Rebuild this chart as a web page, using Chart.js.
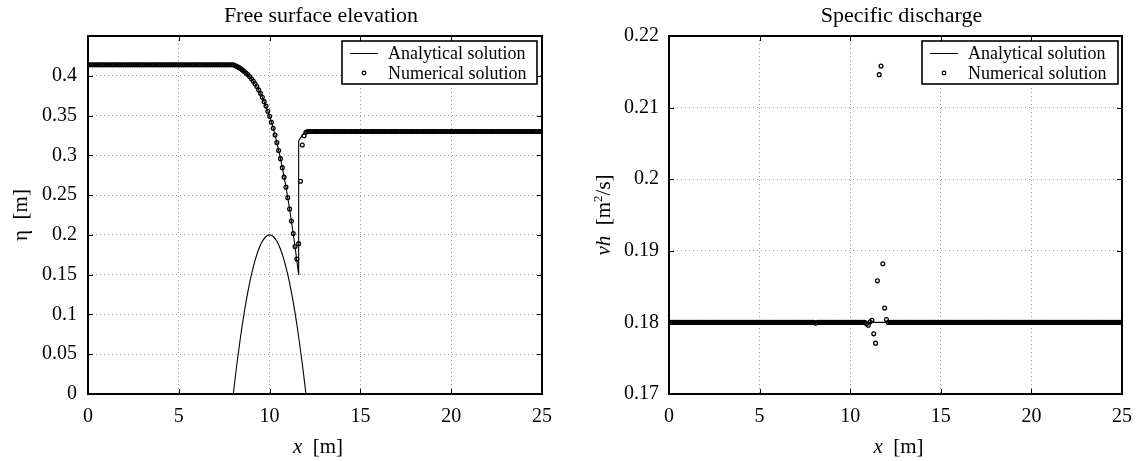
<!DOCTYPE html>
<html>
<head>
<meta charset="utf-8">
<script src="https://cdn.jsdelivr.net/npm/chart.js@4/dist/chart.umd.min.js"></script>
<style>
  html, body { margin: 0; padding: 0; background: #fff; }
  #wrap { position: relative; width: 1143px; height: 461px; overflow: hidden; }
  #wrap canvas { position: absolute; top: 0; }
  #left { left: 0; }
  #right { left: 580px; }
</style>
</head>
<body>
<div id="wrap">
  <canvas id="left" width="580" height="461"></canvas>
  <canvas id="right" width="563" height="461"></canvas>
</div>
<script>
// mesh nodes of the numerical solution [m]
const xNodes = [
  0, 0.1, 0.2, 0.3, 0.4, 0.5, 0.6, 0.7, 0.8, 0.9,
  1, 1.1, 1.2, 1.3, 1.4, 1.5, 1.6, 1.7, 1.8, 1.9,
  2, 2.1, 2.2, 2.3, 2.4, 2.5, 2.6, 2.7, 2.8, 2.9,
  3, 3.1, 3.2, 3.3, 3.4, 3.5, 3.6, 3.7, 3.8, 3.9,
  4, 4.1, 4.2, 4.3, 4.4, 4.5, 4.6, 4.7, 4.8, 4.9,
  5, 5.1, 5.2, 5.3, 5.4, 5.5, 5.6, 5.7, 5.8, 5.9,
  6, 6.1, 6.2, 6.3, 6.4, 6.5, 6.6, 6.7, 6.8, 6.9,
  7, 7.1, 7.2, 7.3, 7.4, 7.5, 7.6, 7.7, 7.8, 7.9,
  8, 8.1, 8.2, 8.3, 8.4, 8.5, 8.6, 8.7, 8.8, 8.9,
  9, 9.1, 9.2, 9.3, 9.4, 9.5, 9.6, 9.7, 9.8, 9.9,
  10, 10.1, 10.2, 10.3, 10.4, 10.5, 10.6, 10.7, 10.8, 10.9,
  11, 11.1, 11.2, 11.3, 11.4, 11.5, 11.6, 11.7, 11.8, 11.9,
  12, 12.1, 12.2, 12.3, 12.4, 12.5, 12.6, 12.7, 12.8, 12.9,
  13, 13.1, 13.2, 13.3, 13.4, 13.5, 13.6, 13.7, 13.8, 13.9,
  14, 14.1, 14.2, 14.3, 14.4, 14.5, 14.6, 14.7, 14.8, 14.9,
  15, 15.1, 15.2, 15.3, 15.4, 15.5, 15.6, 15.7, 15.8, 15.9,
  16, 16.1, 16.2, 16.3, 16.4, 16.5, 16.6, 16.7, 16.8, 16.9,
  17, 17.1, 17.2, 17.3, 17.4, 17.5, 17.6, 17.7, 17.8, 17.9,
  18, 18.1, 18.2, 18.3, 18.4, 18.5, 18.6, 18.7, 18.8, 18.9,
  19, 19.1, 19.2, 19.3, 19.4, 19.5, 19.6, 19.7, 19.8, 19.9,
  20, 20.1, 20.2, 20.3, 20.4, 20.5, 20.6, 20.7, 20.8, 20.9,
  21, 21.1, 21.2, 21.3, 21.4, 21.5, 21.6, 21.7, 21.8, 21.9,
  22, 22.1, 22.2, 22.3, 22.4, 22.5, 22.6, 22.7, 22.8, 22.9,
  23, 23.1, 23.2, 23.3, 23.4, 23.5, 23.6, 23.7, 23.8, 23.9,
  24, 24.1, 24.2, 24.3, 24.4, 24.5, 24.6, 24.7, 24.8, 24.9,
  25
];

// numerical free surface elevation at the nodes [m]
const etaNumerical = [
  0.4139, 0.4139, 0.4139, 0.4139, 0.4139, 0.4139, 0.4139, 0.4139, 0.4139, 0.4139,
  0.4139, 0.4139, 0.4139, 0.4139, 0.4139, 0.4139, 0.4139, 0.4139, 0.4139, 0.4139,
  0.4139, 0.4139, 0.4139, 0.4139, 0.4139, 0.4139, 0.4139, 0.4139, 0.4139, 0.4139,
  0.4139, 0.4139, 0.4139, 0.4139, 0.4139, 0.4139, 0.4139, 0.4139, 0.4139, 0.4139,
  0.4139, 0.4139, 0.4139, 0.4139, 0.4139, 0.4139, 0.4139, 0.4139, 0.4139, 0.4139,
  0.4139, 0.4139, 0.4139, 0.4139, 0.4139, 0.4139, 0.4139, 0.4139, 0.4139, 0.4139,
  0.4139, 0.4139, 0.4139, 0.4139, 0.4139, 0.4139, 0.4139, 0.4139, 0.4139, 0.4139,
  0.4139, 0.4139, 0.4139, 0.4139, 0.4139, 0.4139, 0.4139, 0.4139, 0.4139, 0.4139,
  0.4139, 0.4128, 0.4117, 0.4105, 0.4090, 0.4074, 0.4056, 0.4035, 0.4015, 0.3991,
  0.3962, 0.3933, 0.3900, 0.3865, 0.3820, 0.3779, 0.3730, 0.3675, 0.3620, 0.3555,
  0.3490, 0.3415, 0.3340, 0.3255, 0.3160, 0.3060, 0.2958, 0.2845, 0.2726, 0.2600,
  0.2468, 0.2325, 0.2175, 0.2018, 0.1853, 0.1696, 0.1890, 0.2675, 0.3130, 0.3246,
  0.3290, 0.33, 0.33, 0.33, 0.33, 0.33, 0.33, 0.33, 0.33, 0.33,
  0.33, 0.33, 0.33, 0.33, 0.33, 0.33, 0.33, 0.33, 0.33, 0.33,
  0.33, 0.33, 0.33, 0.33, 0.33, 0.33, 0.33, 0.33, 0.33, 0.33,
  0.33, 0.33, 0.33, 0.33, 0.33, 0.33, 0.33, 0.33, 0.33, 0.33,
  0.33, 0.33, 0.33, 0.33, 0.33, 0.33, 0.33, 0.33, 0.33, 0.33,
  0.33, 0.33, 0.33, 0.33, 0.33, 0.33, 0.33, 0.33, 0.33, 0.33,
  0.33, 0.33, 0.33, 0.33, 0.33, 0.33, 0.33, 0.33, 0.33, 0.33,
  0.33, 0.33, 0.33, 0.33, 0.33, 0.33, 0.33, 0.33, 0.33, 0.33,
  0.33, 0.33, 0.33, 0.33, 0.33, 0.33, 0.33, 0.33, 0.33, 0.33,
  0.33, 0.33, 0.33, 0.33, 0.33, 0.33, 0.33, 0.33, 0.33, 0.33,
  0.33, 0.33, 0.33, 0.33, 0.33, 0.33, 0.33, 0.33, 0.33, 0.33,
  0.33, 0.33, 0.33, 0.33, 0.33, 0.33, 0.33, 0.33, 0.33, 0.33,
  0.33, 0.33, 0.33, 0.33, 0.33, 0.33, 0.33, 0.33, 0.33, 0.33,
  0.33
];

// numerical specific discharge at the nodes [m2/s]
const qNumerical = [
  0.18, 0.18, 0.18, 0.18, 0.18, 0.18, 0.18, 0.18, 0.18, 0.18,
  0.18, 0.18, 0.18, 0.18, 0.18, 0.18, 0.18, 0.18, 0.18, 0.18,
  0.18, 0.18, 0.18, 0.18, 0.18, 0.18, 0.18, 0.18, 0.18, 0.18,
  0.18, 0.18, 0.18, 0.18, 0.18, 0.18, 0.18, 0.18, 0.18, 0.18,
  0.18, 0.18, 0.18, 0.18, 0.18, 0.18, 0.18, 0.18, 0.18, 0.18,
  0.18, 0.18, 0.18, 0.18, 0.18, 0.18, 0.18, 0.18, 0.18, 0.18,
  0.18, 0.18, 0.18, 0.18, 0.18, 0.18, 0.18, 0.18, 0.18, 0.18,
  0.18, 0.18, 0.18, 0.18, 0.18, 0.18, 0.18, 0.18, 0.18, 0.18,
  0.18, 0.1799, 0.18, 0.18, 0.18, 0.18, 0.18, 0.18, 0.18, 0.18,
  0.18, 0.18, 0.18, 0.18, 0.18, 0.18, 0.18, 0.18, 0.18, 0.18,
  0.18, 0.18, 0.18, 0.18, 0.18, 0.18, 0.18, 0.18, 0.18, 0.1798,
  0.1796, 0.1801, 0.1803, 0.1784, 0.1771, 0.1858, 0.2146, 0.2158, 0.1882, 0.1820,
  0.1804, 0.18, 0.18, 0.18, 0.18, 0.18, 0.18, 0.18, 0.18, 0.18,
  0.18, 0.18, 0.18, 0.18, 0.18, 0.18, 0.18, 0.18, 0.18, 0.18,
  0.18, 0.18, 0.18, 0.18, 0.18, 0.18, 0.18, 0.18, 0.18, 0.18,
  0.18, 0.18, 0.18, 0.18, 0.18, 0.18, 0.18, 0.18, 0.18, 0.18,
  0.18, 0.18, 0.18, 0.18, 0.18, 0.18, 0.18, 0.18, 0.18, 0.18,
  0.18, 0.18, 0.18, 0.18, 0.18, 0.18, 0.18, 0.18, 0.18, 0.18,
  0.18, 0.18, 0.18, 0.18, 0.18, 0.18, 0.18, 0.18, 0.18, 0.18,
  0.18, 0.18, 0.18, 0.18, 0.18, 0.18, 0.18, 0.18, 0.18, 0.18,
  0.18, 0.18, 0.18, 0.18, 0.18, 0.18, 0.18, 0.18, 0.18, 0.18,
  0.18, 0.18, 0.18, 0.18, 0.18, 0.18, 0.18, 0.18, 0.18, 0.18,
  0.18, 0.18, 0.18, 0.18, 0.18, 0.18, 0.18, 0.18, 0.18, 0.18,
  0.18, 0.18, 0.18, 0.18, 0.18, 0.18, 0.18, 0.18, 0.18, 0.18,
  0.18, 0.18, 0.18, 0.18, 0.18, 0.18, 0.18, 0.18, 0.18, 0.18,
  0.18
];

// analytical free surface (shock at x ~ 11.6)
const etaExactX = [
  0, 8, 8.1, 8.2, 8.3, 8.4, 8.5, 8.6, 8.7, 8.8, 8.9,
  9, 9.1, 9.2, 9.3, 9.4, 9.5, 9.6, 9.7, 9.8, 9.9,
  10, 10.1, 10.2, 10.3, 10.4, 10.5, 10.6, 10.7, 10.8, 10.9,
  11, 11.1, 11.2, 11.3, 11.4, 11.5, 11.6,
  11.6, 11.7, 11.8, 11.9, 12, 25
];
const etaExact = [
  0.4139, 0.4139, 0.4128, 0.4117, 0.4105, 0.4090, 0.4074, 0.4056, 0.4035, 0.4015, 0.3991,
  0.3962, 0.3933, 0.3900, 0.3865, 0.3820, 0.3779, 0.3730, 0.3675, 0.3620, 0.3555,
  0.3490, 0.3415, 0.3340, 0.3255, 0.3160, 0.3060, 0.2958, 0.2845, 0.2726, 0.2600,
  0.2468, 0.2325, 0.2175, 0.2018, 0.1853, 0.1678, 0.1497,
  0.3180, 0.3220, 0.3254, 0.3277, 0.33, 0.33
];

// bump
const bedX = [8, 8.2, 8.4, 8.6, 8.8, 9, 9.2, 9.4, 9.6, 9.8, 10, 10.2, 10.4, 10.6, 10.8, 11, 11.2, 11.4, 11.6, 11.8, 12];
const bedZ = [0, 0.038, 0.072, 0.102, 0.128, 0.15, 0.168, 0.182, 0.192, 0.198, 0.2, 0.198, 0.192, 0.182, 0.168, 0.15, 0.128, 0.102, 0.072, 0.038, 0];

// analytical discharge
const qExactX = [0, 25];
const qExact = [0.18, 0.18];

const legendLabels = ['Analytical solution', 'Numerical solution'];

const serif = '"Liberation Serif", "Times New Roman", Times, serif';
const gridColor = '#9a9a9a';

function pts(xs, ys) {
  return xs.map((x, i) => ({ x: x, y: ys[i] }));
}

function drawParts(ctx, parts, x, y) {
  let total = 0;
  parts.forEach((p) => {
    ctx.font = p.f;
    p.w = ctx.measureText(p.t).width;
    total += p.w;
  });
  let cx = x - total / 2;
  parts.forEach((p) => {
    ctx.font = p.f;
    ctx.fillText(p.t, cx, y + (p.dy || 0));
    cx += p.w;
  });
}

const framePlugin = {
  id: 'frame',
  afterDatasetsDraw(chart) {
    const { ctx, chartArea: a, scales } = chart;
    const o = chart.options.plugins.frame;
    ctx.save();
    ctx.strokeStyle = '#000';
    ctx.lineWidth = 1;
    ctx.beginPath();
    scales.x.ticks.forEach((t) => {
      const px = Math.round(scales.x.getPixelForValue(t.value)) + 0.5;
      ctx.moveTo(px, a.bottom);
      ctx.lineTo(px, a.bottom - 5);
      ctx.moveTo(px, a.top);
      ctx.lineTo(px, a.top + 5);
    });
    scales.y.ticks.forEach((t) => {
      const py = Math.round(scales.y.getPixelForValue(t.value)) + 0.5;
      ctx.moveTo(a.left, py);
      ctx.lineTo(a.left + 5, py);
      ctx.moveTo(a.right, py);
      ctx.lineTo(a.right - 5, py);
    });
    ctx.stroke();
    ctx.lineWidth = 2;
    ctx.strokeRect(a.left, a.top, a.right - a.left, a.bottom - a.top);

    // legend box
    const L = o.legend;
    ctx.fillStyle = '#fff';
    ctx.fillRect(L.x, L.y, L.w, L.h);
    ctx.lineWidth = 1.6;
    ctx.strokeRect(L.x, L.y, L.w, L.h);
    ctx.lineWidth = 1;
    ctx.beginPath();
    ctx.moveTo(L.x + 8, L.y + 12.5);
    ctx.lineTo(L.x + 36, L.y + 12.5);
    ctx.stroke();
    ctx.lineWidth = 1.2;
    ctx.beginPath();
    ctx.arc(L.x + 22, L.y + 32, 1.8, 0, Math.PI * 2);
    ctx.stroke();
    ctx.fillStyle = '#000';
    ctx.textAlign = 'left';
    ctx.textBaseline = 'alphabetic';
    ctx.font = '18px ' + serif;
    ctx.fillText(legendLabels[0], L.x + 46, L.y + 18);
    ctx.fillText(legendLabels[1], L.x + 46, L.y + 38);
    ctx.restore();
  },
  afterDraw(chart) {
    const { ctx, chartArea: a } = chart;
    const o = chart.options.plugins.frame;
    const cx = (a.left + a.right) / 2;
    ctx.save();
    ctx.fillStyle = '#000';
    ctx.textAlign = 'left';
    ctx.textBaseline = 'alphabetic';
    drawParts(ctx, [{ t: o.title, f: '22px ' + serif }], cx + 6, 22);
    drawParts(ctx, [
      { t: 'x', f: 'italic 21px ' + serif },
      { t: '  [m]', f: '21px ' + serif }
    ], cx + 3, 453);
    ctx.translate(o.ylabelX, (a.top + a.bottom) / 2);
    ctx.rotate(-Math.PI / 2);
    drawParts(ctx, o.ylabel, 0, 0);
    ctx.restore();
  }
};

function makeChart(id, cfg) {
  const tickFont = { family: serif, size: 20 };
  return new Chart(document.getElementById(id), {
    type: 'scatter',
    data: { datasets: cfg.datasets },
    options: {
      responsive: false,
      animation: false,
      events: [],
      layout: { padding: { left: 0, top: 36, right: cfg.padRight, bottom: 0 } },
      plugins: {
        legend: { display: false },
        tooltip: { enabled: false },
        frame: cfg.frame
      },
      scales: {
        x: {
          type: 'linear',
          min: 0,
          max: 25,
          afterFit: (s) => { s.height = 67; },
          ticks: { stepSize: 5, padding: 11, color: '#000', font: tickFont, maxRotation: 0 },
          grid: { color: gridColor, lineWidth: 1, drawTicks: false },
          border: { display: false, dash: [1, 3] }
        },
        y: {
          type: 'linear',
          min: cfg.yMin,
          max: cfg.yMax,
          afterFit: (s) => { s.width = cfg.yWidth; },
          ticks: {
            stepSize: cfg.yStep,
            padding: cfg.yPad,
            color: '#000',
            font: tickFont,
            callback: cfg.yFormat
          },
          grid: { color: gridColor, lineWidth: 1, drawTicks: false },
          border: { display: false, dash: [1, 3] }
        }
      }
    },
    plugins: [framePlugin]
  });
}

const numStyle = {
  showLine: false,
  pointRadius: 1.9,
  pointBorderWidth: 1.3,
  pointBorderColor: '#000',
  pointBackgroundColor: 'rgba(0,0,0,0)'
};
const lineStyle = {
  showLine: true,
  pointRadius: 0,
  borderColor: '#000',
  borderWidth: 1.1
};

makeChart('left', {
  padRight: 38,
  yMin: 0,
  yMax: 0.45,
  yStep: 0.05,
  yWidth: 88,
  yPad: 11,
  yFormat: (v) => (v > 0.449 ? '' : String(+v.toFixed(3))),
  frame: {
    title: 'Free surface elevation',
    ylabelX: 27,
    ylabel: [{ t: 'η  [m]', f: '21px ' + serif }],
    legend: { x: 342, y: 41, w: 195, h: 43 }
  },
  datasets: [
    Object.assign({ label: legendLabels[1], data: pts(xNodes, etaNumerical) }, numStyle),
    Object.assign({ label: legendLabels[0], data: pts(etaExactX, etaExact) }, lineStyle),
    Object.assign({ label: 'Bed', data: pts(bedX, bedZ), cubicInterpolationMode: 'monotone' }, lineStyle)
  ]
});

makeChart('right', {
  padRight: 20,
  yMin: 0.17,
  yMax: 0.22,
  yStep: 0.01,
  yWidth: 89,
  yPad: 10,
  yFormat: (v) => String(+v.toFixed(3)),
  frame: {
    title: 'Specific discharge',
    ylabelX: 30,
    ylabel: [
      { t: 'vh', f: 'italic 21px ' + serif },
      { t: '  [m', f: '21px ' + serif },
      { t: '2', f: '13px ' + serif, dy: -8 },
      { t: '/s]', f: '21px ' + serif }
    ],
    legend: { x: 342, y: 41, w: 196, h: 43 }
  },
  datasets: [
    Object.assign({ label: legendLabels[1], data: pts(xNodes, qNumerical) }, numStyle),
    Object.assign({ label: legendLabels[0], data: pts(qExactX, qExact) }, lineStyle)
  ]
});
</script>
</body>
</html>
